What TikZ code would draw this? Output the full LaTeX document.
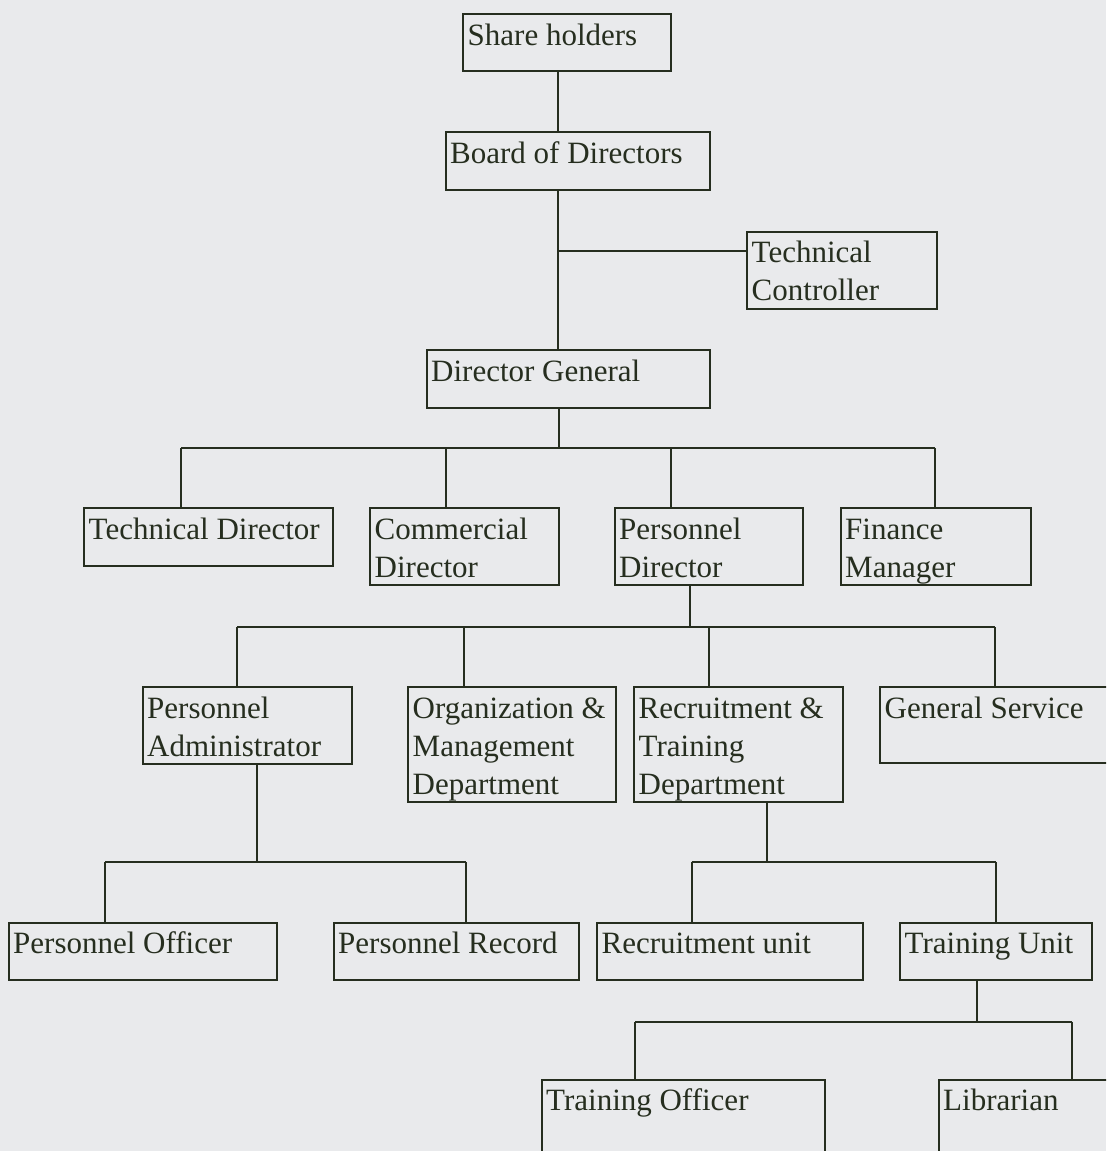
\documentclass[tikz,border=0pt]{standalone}
\usepackage{fontspec}
\setmainfont{Liberation Serif}
\definecolor{ink}{HTML}{262E1F}
\definecolor{bg}{HTML}{E9EAEC}
\newcommand\orgbox[6]{%
  \node[box, minimum width={#4-#2}, minimum height={#5-#3}] (#1) at (#2,#3) {};
  \node[lbl] (#1-t) at ([shift={(4.5,31)}]#1.north west) {\begin{tabular}[t]{@{}l@{}}#6\end{tabular}};}
\begin{document}
\begin{tikzpicture}[x=1pt,y=-1pt,
  box/.style={draw=ink, line width=2pt, inner sep=0pt, outer sep=0pt, anchor=north west},
  lbl/.style={anchor=base west, inner sep=0pt, text=ink, font=\fontsize{31}{38}\selectfont},
  link/.style={draw=ink, line width=2pt}]
\useasboundingbox (0,0) rectangle (1106,1151);
\fill[bg] (0,0) rectangle (1106,1151);
\clip (0,0) rectangle (1106,1151);

\orgbox{sh}{463}{14}{671}{71}{Share holders}
\orgbox{bod}{445.5}{132}{709.5}{190}{Board of Directors}
\orgbox{tc}{747}{231.5}{937}{308.5}{Technical\\Controller}
\orgbox{dg}{426.5}{350}{709.5}{407.5}{Director General}
\orgbox{td}{84}{508}{332.5}{565.5}{Technical Director}
\orgbox{cd}{370}{508}{559}{585}{Commercial\\Director}
\orgbox{pd}{614.5}{508}{803}{585}{Personnel\\Director}
\orgbox{fm}{840.5}{508}{1031}{585}{Finance\\Manager}
\orgbox{pa}{142.5}{687}{351.5}{764}{Personnel\\Administrator}
\orgbox{om}{408}{687}{615.5}{801.5}{Organization \&\\Management\\Department}
\orgbox{rt}{634}{687}{842.5}{801.5}{Recruitment \&\\Training\\Department}
\orgbox{gs}{880}{687}{1115}{763}{General Service}
\orgbox{po}{8.5}{922.5}{277}{980}{Personnel Officer}
\orgbox{pr}{333.5}{922.5}{579}{980}{Personnel Record}
\orgbox{ru}{597}{922.5}{863}{980}{Recruitment unit}
\orgbox{tu}{900}{922.5}{1092}{980}{Training Unit}
\orgbox{to}{541.5}{1079.5}{824.5}{1170}{Training Officer}
\orgbox{lb}{938.5}{1079.5}{1120}{1170}{Librarian}

% junction coordinates
\coordinate (tcj) at (558,250.5);
\coordinate (dgj) at (559,448);
\coordinate (tdj) at (181,448);
\coordinate (cdj) at (446,448);
\coordinate (pdj) at (671,448);
\coordinate (fmj) at (935,448);
\coordinate (pdb) at (690,627);
\coordinate (paj) at (237,627);
\coordinate (omj) at (464,627);
\coordinate (rtj) at (709,627);
\coordinate (gsj) at (995,627);
\coordinate (pab) at (257,862);
\coordinate (poj) at (105,862);
\coordinate (prj) at (466,862);
\coordinate (rtb) at (767,862);
\coordinate (ruj) at (691.5,862);
\coordinate (tuj) at (996,862);
\coordinate (tub) at (977,1021.5);
\coordinate (toj) at (635,1021.5);
\coordinate (lbj) at (1072,1021.5);

% top chain
\draw[link] (sh.south -| tcj) -- (bod.north -| tcj);
\draw[link] (bod.south -| tcj) -- (dg.north -| tcj);
\draw[link] (tcj) -- (tc.west |- tcj);

% Director General level
\draw[link] (dg.south -| dgj) -- (dgj);
\draw[link] (tdj) -- (fmj);
\draw[link] (tdj) -- (td.north -| tdj);
\draw[link] (cdj) -- (cd.north -| cdj);
\draw[link] (pdj) -- (pd.north -| pdj);
\draw[link] (fmj) -- (fm.north -| fmj);

% Personnel Director level
\draw[link] (pd.south -| pdb) -- (pdb);
\draw[link] (paj) -- (gsj);
\draw[link] (paj) -- (pa.north -| paj);
\draw[link] (omj) -- (om.north -| omj);
\draw[link] (rtj) -- (rt.north -| rtj);
\draw[link] (gsj) -- (gs.north -| gsj);

% Personnel Administrator level
\draw[link] (pa.south -| pab) -- (pab);
\draw[link] (poj) -- (prj);
\draw[link] (poj) -- (po.north -| poj);
\draw[link] (prj) -- (pr.north -| prj);

% Recruitment & Training level
\draw[link] (rt.south -| rtb) -- (rtb);
\draw[link] (ruj) -- (tuj);
\draw[link] (ruj) -- (ru.north -| ruj);
\draw[link] (tuj) -- (tu.north -| tuj);

% Training Unit level
\draw[link] (tu.south -| tub) -- (tub);
\draw[link] (toj) -- (lbj);
\draw[link] (toj) -- (to.north -| toj);
\draw[link] (lbj) -- (lb.north -| lbj);
\end{tikzpicture}
\end{document}
